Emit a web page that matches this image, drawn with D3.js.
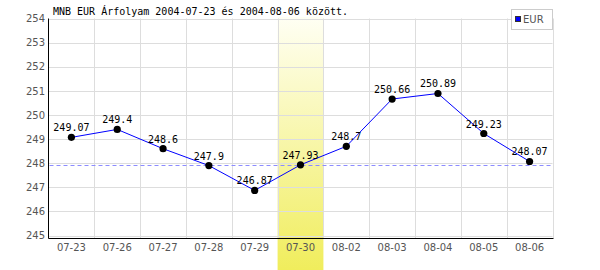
<!DOCTYPE html>
<head>
    <script src="https://d3js.org/d3.v7.min.js"></script>
    <style>
body { margin: 0; background: #fff; }
text { font-family: "DejaVu Sans", sans-serif; }
.mono { font-family: "DejaVu Sans Mono", monospace; }
</style>
</head>
<body>
    <svg></svg>
</body>

<script>
    // chart data
    var dates = ["07-23", "07-26", "07-27", "07-28", "07-29", "07-30", "08-02", "08-03", "08-04", "08-05", "08-06"];
    var rates = [249.07, 249.4, 248.6, 247.9, 246.87, 247.93, 248.7, 250.66, 250.89, 249.23, 248.07];
    var yTicks = [245, 246, 247, 248, 249, 250, 251, 252, 253, 254];
    var highlightDate = "07-30";
    var title = "MNB EUR Árfolyam 2004-07-23 és 2004-08-06 között.";
    var seriesName = "EUR";

    var width = 600, height = 270;
    var plotL = 48.5, plotR = 552.5, plotT = 18.5, plotB = 235.5;

    var svg = d3.select('svg')
        .attr('width', width)
        .attr('height', height);

    var x = d3.scaleBand().domain(dates).range([plotL, plotR]);
    var y = d3.scaleLinear().domain([245, 254]).range([plotB, plotT]);

    // yellow gradient for the highlighted day
    var grad = svg.append('defs').append('linearGradient')
        .attr('id', 'hl').attr('x1', 0).attr('y1', 0).attr('x2', 0).attr('y2', 1);
    grad.append('stop').attr('offset', '0%').attr('stop-color', '#fffff4');
    grad.append('stop').attr('offset', '100%').attr('stop-color', '#f0ed5c');

    svg.append('rect')
        .attr('x', x(highlightDate))
        .attr('y', 17)
        .attr('width', x.bandwidth())
        .attr('height', height - 17)
        .attr('fill', 'url(#hl)');

    // grid
    svg.append('g')
        .selectAll('line')
        .data(yTicks)
        .enter().append('line')
        .attr('x1', plotL).attr('x2', plotR)
        .attr('y1', function (d) { return Math.round(y(d)) + 0.5; })
        .attr('y2', function (d) { return Math.round(y(d)) + 0.5; })
        .style('stroke', '#dddddd');

    svg.append('g')
        .selectAll('line')
        .data(dates)
        .enter().append('line')
        .attr('x1', function (d) { return Math.round(x(d) + x.bandwidth()) + 0.5; })
        .attr('x2', function (d) { return Math.round(x(d) + x.bandwidth()) + 0.5; })
        .attr('y1', plotT).attr('y2', 238)
        .style('stroke', '#dddddd');

    // y axis labels
    var yAxis = d3.axisLeft(y).tickValues(yTicks).tickSize(0).tickPadding(3);
    var ga = svg.append('g').attr('transform', 'translate(' + (plotL - 0.5) + ',0)').call(yAxis);
    ga.select('.domain').remove();
    ga.selectAll('text').style('font-size', '10px').style('fill', '#555');

    // x axis labels
    var xAxis = d3.axisBottom(x).tickSize(0).tickPadding(6);
    var gx = svg.append('g').attr('transform', 'translate(0,238)').call(xAxis);
    gx.select('.domain').remove();
    gx.selectAll('text').style('font-size', '10px').style('fill', '#555');

    // axis lines
    svg.append('line').attr('x1', plotL).attr('x2', plotL).attr('y1', plotT).attr('y2', 238.5)
        .style('stroke', '#000');
    svg.append('line').attr('x1', plotL).attr('x2', plotR + 1).attr('y1', 238.5).attr('y2', 238.5)
        .style('stroke', '#000');

    // reference line at highlighted day's value
    var hv = rates[dates.indexOf(highlightDate)];
    svg.append('line')
        .attr('x1', plotL + 1).attr('x2', plotR)
        .attr('y1', Math.round(y(hv)) + 0.5).attr('y2', Math.round(y(hv)) + 0.5)
        .style('stroke', '#8c8cff')
        .style('stroke-dasharray', '4,3');

    var pts = dates.map(function (d, i) { return [x(d) + x.bandwidth() / 2, y(rates[i])]; });

    svg.append('path')
        .attr('d', d3.line()(pts))
        .style('fill', 'none')
        .style('stroke', '#0000ff')
        .style('stroke-width', 1);

    svg.append('g').selectAll('circle')
        .data(pts)
        .enter().append('circle')
        .attr('cx', function (d) { return d[0]; })
        .attr('cy', function (d) { return d[1]; })
        .attr('r', 3.6)
        .style('fill', '#000');

    svg.append('g').selectAll('text')
        .data(pts)
        .enter().append('text')
        .attr('class', 'mono')
        .attr('x', function (d) { return d[0]; })
        .attr('y', function (d) { return d[1] - 6; })
        .attr('text-anchor', 'middle')
        .style('font-size', '10px')
        .style('fill', '#000')
        .text(function (d, i) { return rates[i]; });

    // title
    svg.append('text')
        .attr('class', 'mono')
        .attr('x', 53).attr('y', 15)
        .style('font-size', '10px')
        .style('fill', '#000')
        .text(title);

    // legend
    var lg = svg.append('g');
    lg.append('rect').attr('x', 511.5).attr('y', 9.5).attr('width', 41).attr('height', 20)
        .style('fill', '#fff').style('stroke', '#cccccc');
    lg.append('rect').attr('x', 515.5).attr('y', 16.5).attr('width', 5).attr('height', 5)
        .style('fill', '#0000ff').style('stroke', '#333');
    lg.append('text').attr('x', 523).attr('y', 23)
        .style('font-size', '10px').style('fill', '#555')
        .text(seriesName);
</script>
